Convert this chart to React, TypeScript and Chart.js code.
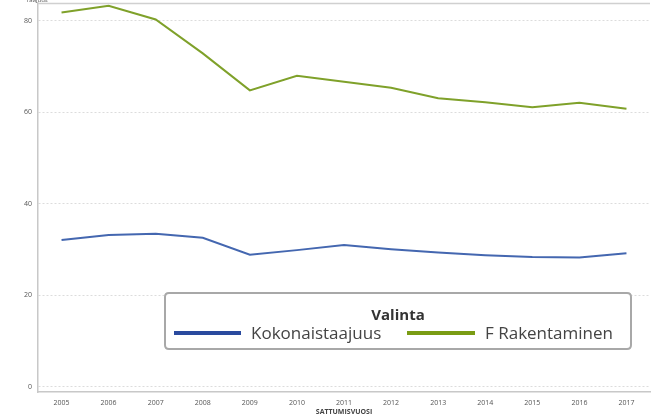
import React, { useEffect, useRef } from "react";
import { Chart, registerables } from "chart.js";

Chart.register(...registerables);

const years = ["2005", "2006", "2007", "2008", "2009", "2010", "2011", "2012", "2013", "2014", "2015", "2016", "2017"];
const kokonaistaajuus = [32.1, 33.2, 33.5, 32.6, 28.9, 29.9, 31.0, 30.1, 29.4, 28.8, 28.4, 28.3, 29.2];
const rakentaminen = [81.8, 83.3, 80.3, 72.9, 64.8, 68.0, 66.7, 65.4, 63.1, 62.2, 61.1, 62.1, 60.8];
const yTicks = [0, 20, 40, 60, 80];
const seriesLabels = ["Kokonaistaajuus", "F Rakentaminen"];
const seriesColors = ["#4467b0", "#7fa12a"];
const legendColors = ["#2a4a9e", "#7a9c14"];
const legendTitle = "Valinta";
const yTitle = "Taajuus";
const xTitle = "SATTUMISVUOSI";

const FONT = "'Open Sans', 'DejaVu Sans', sans-serif";

const overlayPlugin = {
  id: "overlay",
  afterDraw(chart: any) {
    const ctx = chart.ctx as CanvasRenderingContext2D;
    const area = chart.chartArea;
    ctx.save();
    // top border line
    ctx.strokeStyle = "#d0d0d0";
    ctx.lineWidth = 1.5;
    ctx.beginPath();
    ctx.moveTo(area.left, area.top + 0.5);
    ctx.lineTo(area.right, area.top + 0.5);
    ctx.stroke();
    // y title at top-left
    ctx.fillStyle = "#555";
    ctx.font = `6px ${FONT}`;
    ctx.textAlign = "left";
    ctx.textBaseline = "alphabetic";
    ctx.fillText(yTitle, 26, 2);

    // legend box
    const bx = 165, by = 293, bw = 466, bh = 56, r = 4;
    ctx.fillStyle = "#ffffff";
    ctx.strokeStyle = "#a8a8a8";
    ctx.lineWidth = 2;
    ctx.beginPath();
    ctx.moveTo(bx + r, by);
    ctx.lineTo(bx + bw - r, by);
    ctx.quadraticCurveTo(bx + bw, by, bx + bw, by + r);
    ctx.lineTo(bx + bw, by + bh - r);
    ctx.quadraticCurveTo(bx + bw, by + bh, bx + bw - r, by + bh);
    ctx.lineTo(bx + r, by + bh);
    ctx.quadraticCurveTo(bx, by + bh, bx, by + bh - r);
    ctx.lineTo(bx, by + r);
    ctx.quadraticCurveTo(bx, by, bx + r, by);
    ctx.closePath();
    ctx.fill();
    ctx.stroke();

    ctx.fillStyle = "#333";
    ctx.font = `bold 15px ${FONT}`;
    ctx.textAlign = "center";
    ctx.textBaseline = "middle";
    ctx.fillText(legendTitle, 398, 316);

    const items = [
      { x0: 174, x1: 241, tx: 251 },
      { x0: 407, x1: 475, tx: 485 },
    ];
    ctx.font = `17px ${FONT}`;
    ctx.textAlign = "left";
    items.forEach((it, i) => {
      ctx.strokeStyle = legendColors[i];
      ctx.lineWidth = 4;
      ctx.beginPath();
      ctx.moveTo(it.x0, 333);
      ctx.lineTo(it.x1, 333);
      ctx.stroke();
      ctx.fillStyle = "#444";
      ctx.fillText(seriesLabels[i], it.tx, 334);
    });
    ctx.restore();
  },
};

export default function App() {
  const ref = useRef<HTMLCanvasElement | null>(null);
  useEffect(() => {
    document.body.style.margin = "0";
    const canvas = ref.current!;
    const chart = new Chart(canvas, {
      type: "line",
      data: {
        labels: years,
        datasets: [
          {
            label: seriesLabels[0],
            data: kokonaistaajuus,
            borderColor: seriesColors[0],
            backgroundColor: seriesColors[0],
            borderWidth: 2,
            pointRadius: 0,
            tension: 0,
          },
          {
            label: seriesLabels[1],
            data: rakentaminen,
            borderColor: seriesColors[1],
            backgroundColor: seriesColors[1],
            borderWidth: 2,
            pointRadius: 0,
            tension: 0,
          },
        ],
      },
      options: {
        animation: false,
        responsive: false,
        maintainAspectRatio: false,
        layout: { padding: { top: 3, right: 6, left: 0, bottom: 0 } },
        plugins: {
          legend: { display: false },
          tooltip: { enabled: false },
        },
        scales: {
          x: {
            offset: true,
            grid: { display: false, drawTicks: true, tickLength: 3 },
            border: { display: true, color: "#c8c8c8", width: 1.5 },
            ticks: {
              color: "#555",
              font: { size: 7, family: FONT },
              padding: 4,
              maxRotation: 0,
              autoSkip: false,
            },
            title: {
              display: true,
              text: xTitle,
              color: "#444",
              font: { size: 7, family: FONT, weight: "bold" },
              padding: { top: 0, bottom: 0 },
            },
            afterFit: (s: any) => {
              s.height = 24;
              s.paddingLeft = 0;
              s.paddingRight = 0;
            },
          },
          y: {
            min: -1.1,
            max: 83.9,
            afterBuildTicks: (s: any) => {
              s.ticks = yTicks.map((v) => ({ value: v }));
            },
            grid: {
              color: "#dcdcdc",
              lineWidth: 1,
              drawTicks: false,
            },
            border: { display: true, color: "#c8c8c8", width: 1.5, dash: [2, 2] },
            ticks: {
              color: "#555",
              font: { size: 7, family: FONT },
              padding: 6,
            },
            afterFit: (s: any) => {
              s.width = 38;
              s.paddingTop = 0;
              s.paddingBottom = 0;
            },
          },
        },
      },
      plugins: [overlayPlugin],
    });
    return () => chart.destroy();
  }, []);
  return <canvas ref={ref} width={656} height={416} style={{ display: "block", width: 656, height: 416 }} />;
}
